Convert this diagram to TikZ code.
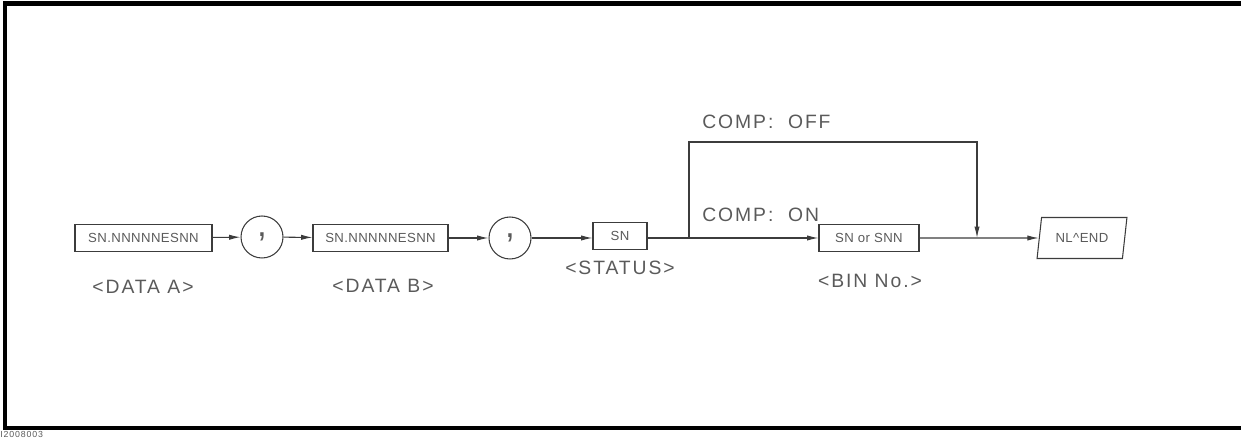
\documentclass[tikz,border=0pt]{standalone}
\usepackage{fontspec}
\usepackage{tikz}
\usepackage{xcolor}
\usetikzlibrary{shapes.geometric, arrows.meta}
\newfontfamily\plotfont[LetterSpace=10]{Liberation Sans}
\newfontfamily\fieldfont[LetterSpace=3]{Liberation Sans}
\definecolor{HP_Line}{HTML}{3C3C3C}
\definecolor{HP_Text}{HTML}{5A5A5A}

\begin{document}
\begin{tikzpicture}[x=0.02cm, y=-0.02cm,
    fld/.style={draw=HP_Line, line width=0.6pt, minimum height=0.55cm, inner sep=0pt, text=HP_Text, font=\fieldfont\fontsize{7.5}{7.5}\selectfont},
    sepc/.style={circle, draw=HP_Line, line width=0.6pt, minimum size=0.84cm, inner sep=0pt, text=HP_Text, font=\plotfont\fontsize{20}{20}\selectfont},
    lbl/.style={text=HP_Text, inner sep=0pt, font=\plotfont\fontsize{11}{11}\selectfont},
    arr/.style={draw=HP_Line, line width=0.6pt, -{Latex[length=6.5pt,width=3pt]}}]
    \useasboundingbox (0,0) rectangle (1241,438);
    % frame
    \draw[line width=2.3pt] (1250,3.5) -- (5,3.5) -- (5,428) -- (1250,428);
    \node[anchor=west, inner sep=0pt, text=HP_Text, font=\plotfont\fontsize{5}{5}\selectfont] (figno) at (0,434) {I2008003};

    % fields
    \node[fld, minimum width=2.74cm] (dataA) at (143.5,238) {SN.NNNNNESNN};
    \node[sepc] (comA) at (262,237) {,};
    \node[fld, minimum width=2.70cm] (dataB) at (380.5,238) {SN.NNNNNESNN};
    \node[sepc] (comB) at (510,238) {,};
    \node[fld, minimum width=1.08cm] (status) at (620,236) {SN};
    \node[fld, minimum width=2.00cm] (bin) at (869,238) {SN or SNN};
    \node[trapezium, trapezium left angle=72, trapezium right angle=108, trapezium stretches=true,
          minimum width=1.8cm, minimum height=0.82cm, inner sep=0pt,
          draw=HP_Line, line width=0.6pt, text=HP_Text, font=\fieldfont\fontsize{7.5}{7.5}\selectfont] (term) at (1082,238) {NL\textasciicircum END};

    % labels
    \node[lbl] (lblA) at (143,287) {<DATA A>};
    \node[lbl] (lblB) at (383,286) {<DATA B>};
    \node[lbl] (lblS) at (620,268) {<STATUS>};
    \node[lbl] (lblN) at (870,281) {<BIN No.>};
    \node[lbl, anchor=west] (off) at (702,122) {COMP:\ \ OFF};
    \node[lbl, anchor=west] (on) at (702,215) {COMP:\ \ ON};

    % connectors
    \coordinate (split) at (689,238);
    \coordinate (offtop) at (977,142);
    \coordinate (join) at (977,238);
    \draw[arr] (dataA) -- (comA);
    \draw[arr] (comA) -- (dataB);
    \draw[arr] (dataB) -- (comB);
    \draw[arr] (comB) -- (status.west |- comB);
    \draw[arr] (status.east |- split) -- (bin);
    \draw[arr] (split) |- (offtop) -- (join);
    \draw[arr] (bin) -- (term);
\end{tikzpicture}
\end{document}
